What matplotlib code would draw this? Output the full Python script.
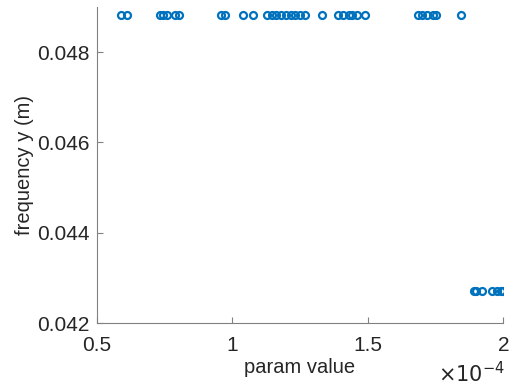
import matplotlib
matplotlib.use("Agg")
import matplotlib.pyplot as plt
import numpy as np

# parameter values (in units of 1e-4) and the frequency they gave
param_top = [0.59, 0.61, 0.735, 0.745, 0.76, 0.79, 0.805, 0.96, 0.975, 1.04, 1.075,
             1.13, 1.145, 1.16, 1.18, 1.20, 1.215, 1.23, 1.25, 1.27, 1.33,
             1.39, 1.41, 1.43, 1.44, 1.46, 1.49, 1.685, 1.70, 1.72, 1.74, 1.75, 1.845]
freq_top = [0.04882] * len(param_top)
param_low = [1.89, 1.90, 1.92, 1.96, 1.975, 1.99, 2.0]
freq_low = [0.042715] * len(param_low)

xticks = [0.5, 1, 1.5, 2]
xtick_labels = ["0.5", "1", "1.5", "2"]
yticks = [0.042, 0.044, 0.046, 0.048]
ytick_labels = ["0.042", "0.044", "0.046", "0.048"]

plt.rcParams['font.family'] = ['Liberation Sans', 'DejaVu Sans']

fig = plt.figure(figsize=(5.11, 3.89), dpi=100)
ax = fig.add_axes([0.1892, 0.169, 0.7958, 0.8122])

blue = "#0072BD"
ax.plot(param_top + param_low, freq_top + freq_low, linestyle="none", marker="o",
        markersize=5, markerfacecolor="none", markeredgecolor=blue, markeredgewidth=1.6)

ax.set_xlim(0.5, 2)
ax.set_ylim(0.042, 0.04899)
ax.set_xticks(xticks)
ax.set_xticklabels(xtick_labels)
ax.set_yticks(yticks)
ax.set_yticklabels(ytick_labels)

for s in ["top", "right"]:
    ax.spines[s].set_visible(False)
for s in ["left", "bottom"]:
    ax.spines[s].set_color("#808080")
    ax.spines[s].set_linewidth(0.8)
ax.tick_params(direction="in", length=4, width=0.8, color="#808080",
               labelsize=15, labelcolor="#262626")
ax.tick_params(axis="x", pad=9)
ax.tick_params(axis="y", pad=5)

ax.set_xlabel("param value", fontsize=14.5, color="#262626", labelpad=2)
ax.set_ylabel("frequency y (m)", fontsize=14.5, color="#262626", labelpad=2)

fig.text(0.988, 0.008, r"$\times10^{-4}$", ha="right", va="bottom", fontsize=15,
         color="#262626", math_fontfamily="dejavusans")

fig.savefig("out.png", dpi=100)
